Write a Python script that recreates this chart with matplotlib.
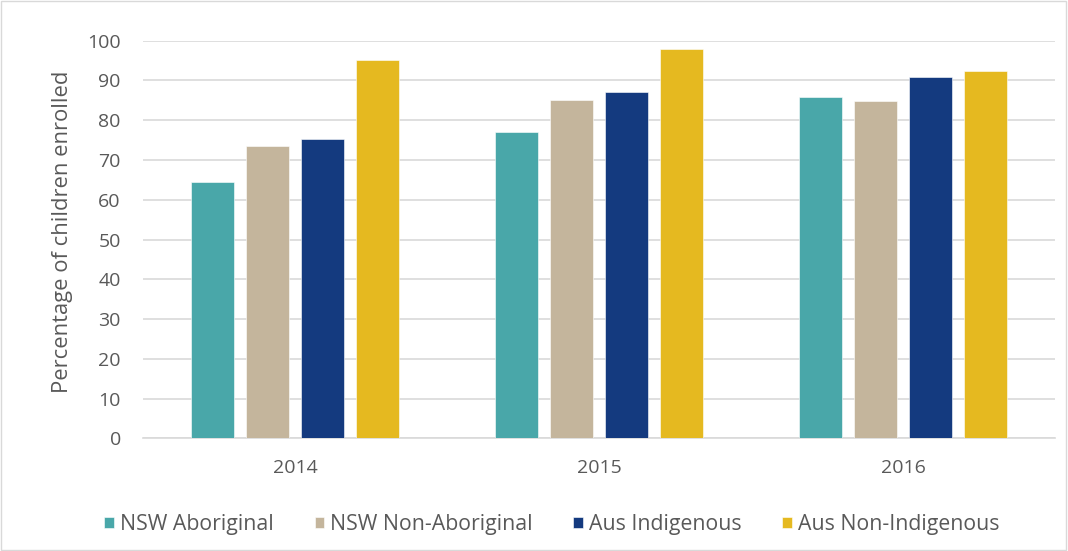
import numpy as np
import matplotlib
matplotlib.use("Agg")
import matplotlib.pyplot as plt
from matplotlib.patches import Rectangle

years = ["2014", "2015", "2016"]
series = ["NSW Aboriginal", "NSW Non-Aboriginal", "Aus Indigenous", "Aus Non-Indigenous"]
nsw_aboriginal = [64.4, 77.0, 85.8]
nsw_non_aboriginal = [73.5, 85.0, 84.8]
aus_indigenous = [75.4, 87.0, 90.9]
aus_non_indigenous = [95.1, 98.0, 92.5]
colors = ["#49A7A9", "#C4B59C", "#143A7F", "#E5B920"]

plt.rcParams['font.family'] = ['Open Sans', 'DejaVu Sans']
txt = "#595959"

fig = plt.figure(figsize=(10.68, 5.51), dpi=100)
ax = fig.add_axes([0.1339, 0.2045, 0.8539, 0.7216])

x = np.arange(len(years))
step = 0.181
w = 0.1416
vals = [nsw_aboriginal, nsw_non_aboriginal, aus_indigenous, aus_non_indigenous]
for i, (name, v) in enumerate(zip(series, vals)):
    ax.bar(x + (i - 1.5) * step, v, width=w, color=colors[i], label=name,
           edgecolor="white", linewidth=0.4, zorder=3)

ax.set_xlim(-0.5, 2.5)
ax.set_ylim(0, 100)
ax.set_yticks(range(0, 101, 10))
ax.set_xticks(x)
ax.set_xticklabels(years)
ax.yaxis.grid(True, color="#d9d9d9", linewidth=1.2, zorder=0)
ax.set_axisbelow(True)
for s in ["top", "right", "left"]:
    ax.spines[s].set_visible(False)
ax.spines["bottom"].set_color("#d9d9d9")
ax.spines["bottom"].set_linewidth(1.2)
ax.tick_params(axis="both", length=0, labelsize=14, colors=txt)
ax.tick_params(axis="y", pad=16)
ax.tick_params(axis="x", pad=15)
ax.set_ylabel("Percentage of children enrolled", fontsize=15.8, color=txt)
ax.yaxis.set_label_coords(-0.077, 0.52)

leg = fig.legend(loc="lower center", bbox_to_anchor=(0.517, -0.006), ncol=4, frameon=False,
                 fontsize=15.3, handlelength=0.45, handleheight=0.45, handletextpad=0.3,
                 columnspacing=1.9)
for t in leg.get_texts():
    t.set_color(txt)

fig.patches.append(Rectangle((0.001, 0.001), 0.997, 0.997, transform=fig.transFigure,
                             fill=False, edgecolor="#d9d9d9", linewidth=1))

fig.savefig("out.png", dpi=100)
